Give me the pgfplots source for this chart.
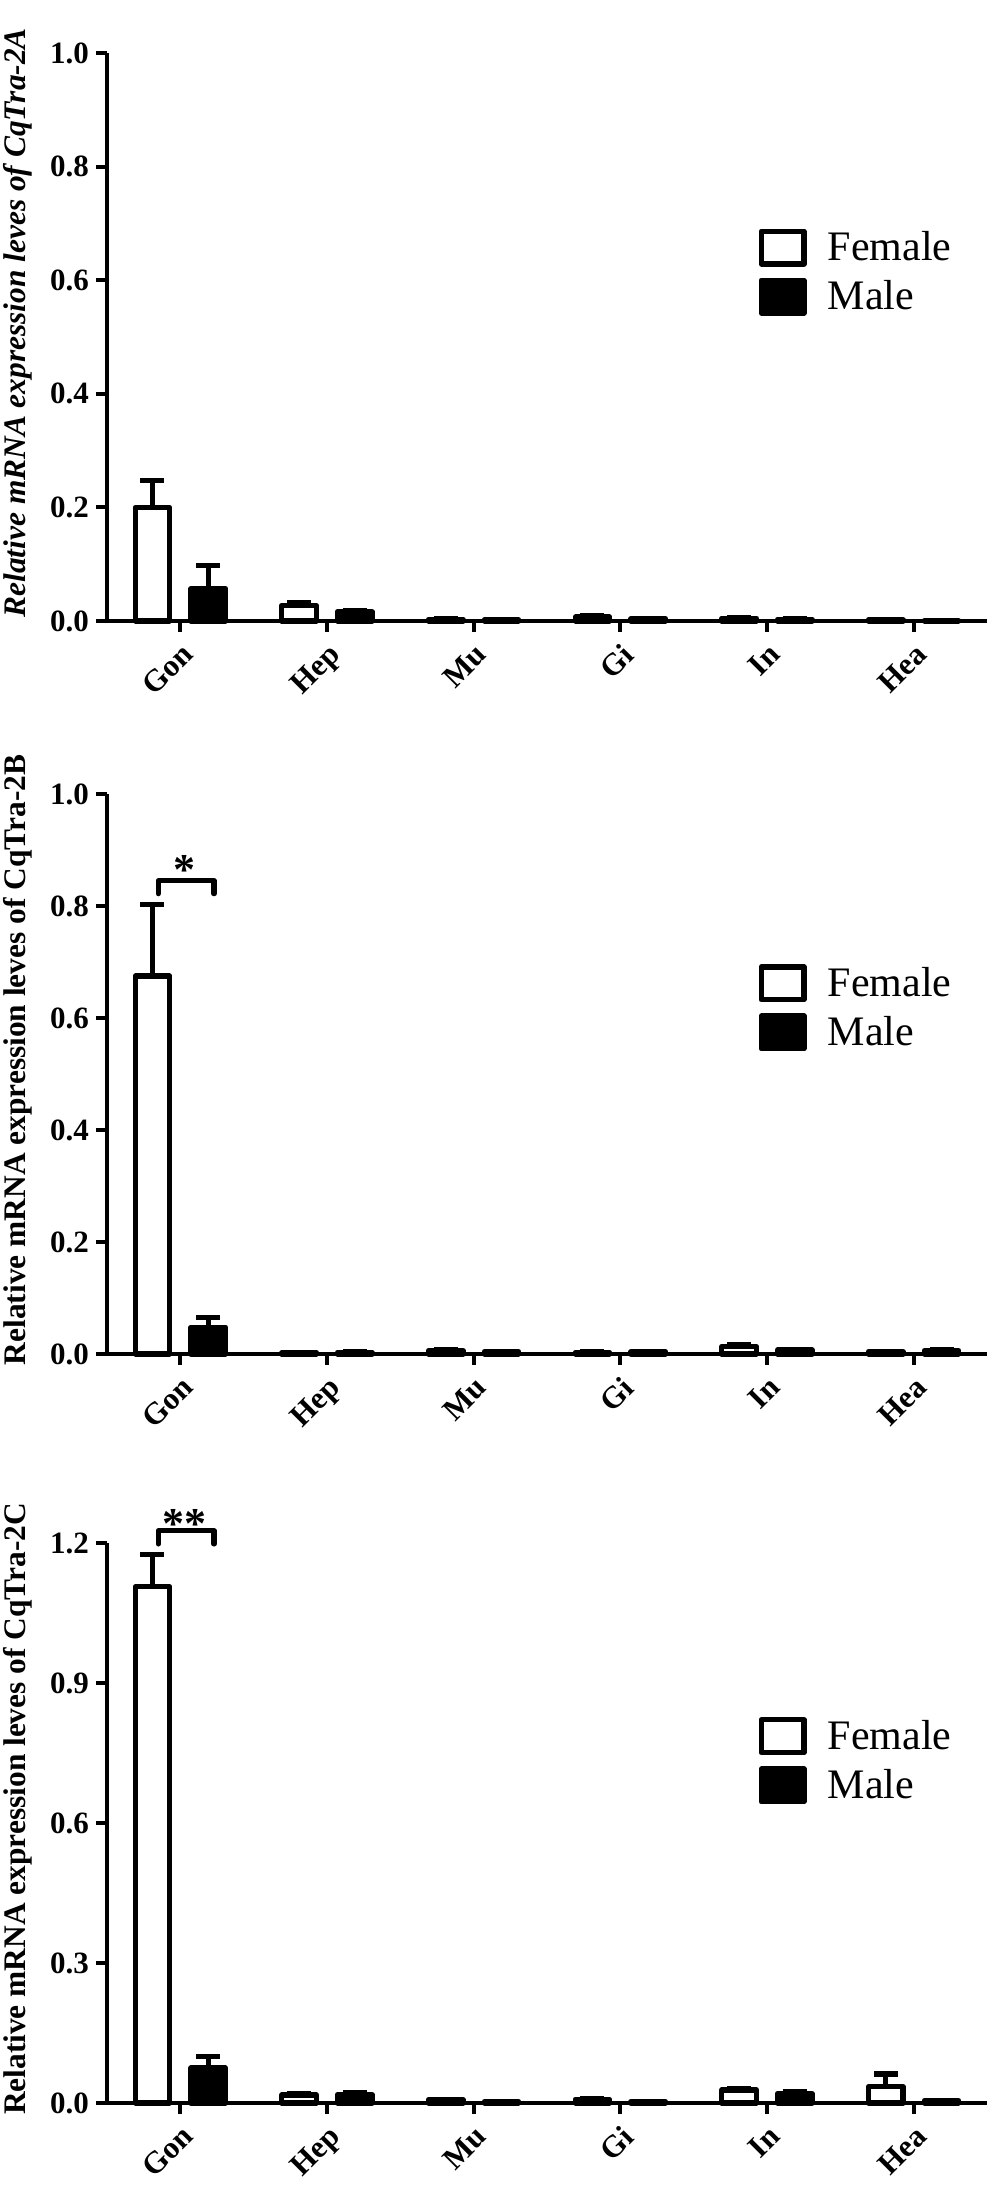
\documentclass[border=0pt]{standalone}
\usepackage{pgfplots}
\pgfplotsset{compat=1.18}
\usepackage{fontspec}
\setmainfont{Liberation Serif}
\pgfplotsset{
  panel/.style={
    scale only axis, width=440pt,
    ybar, clip=false,
    axis lines=left,
    axis line style={-, line width=2pt, black},
    tick style={line width=2pt, black},
    tick align=outside, major tick length=5.5pt,
    minor tick num=0,
    xmin=-0.5, xmax=5.5, ymin=0,
    xtick={0,1,2,3,4,5},
    xticklabels={Gon,Hep,Mu,Gi,In,Hea},
    xticklabel style={rotate=45, anchor=north east, font=\fontsize{15.5}{18}\selectfont\bfseries},
    yticklabel style={font=\fontsize{15.5}{18}\selectfont\bfseries},
    /pgf/number format/assume math mode=true,
    /pgf/number format/.cd, fixed, fixed zerofill, precision=1, /pgfplots/.cd,
    every axis y label/.style={at={(axis description cs:-0.101,0.525)}, rotate=90, anchor=center},
    bar width=0.235,
    legend image code/.code={\draw[#1, line width=2.6pt, line join=round] (0pt,-8.2pt) rectangle (21.4pt,8.2pt); \path (29pt,0pt);},
    legend style={draw=none, fill=none, font=\fontsize{21}{23}\selectfont, row sep=2.5pt, inner sep=0pt, nodes={inner sep=3pt}},
    legend cell align=left,
    error bars/y dir=plus, error bars/y explicit,
    error bars/error bar style={line width=2.6pt, black},
    error bars/error mark options={rotate=90, mark size=6pt, line width=2.6pt, black},
  },
  fem/.style={fill=white, draw=black, line width=2.6pt, line join=round, bar shift=-0.19},
  mal/.style={fill=black, draw=black, line width=2.6pt, line join=round, bar shift=0.19},
}
\begin{document}
\begin{tikzpicture}
\useasboundingbox (0,0) rectangle (502pt,1098pt);
% ---------- Panel A
\begin{axis}[panel, at={(53.5pt,787.5pt)}, anchor=south west, height=284pt,
  ymax=1.0, ytick={0,0.2,0.4,0.6,0.8,1.0},
  ylabel={\fontsize{15.7}{18}\selectfont\bfseries\itshape Relative mRNA expression leves of CqTra-2A},
  legend style={at={(axis description cs:0.740,0.697)}, anchor=north west}]
\addplot[fem] coordinates {(0,0.200) +- (0,0.048) (1,0.027) +- (0,0.006) (2,0.003) +- (0,0.001) (3,0.007) +- (0,0.002) (4,0.005) +- (0,0.001) (5,0.002) +- (0,0.001)};
\addplot[mal] coordinates {(0,0.057) +- (0,0.040) (1,0.016) +- (0,0.003) (2,0.002) +- (0,0.001) (3,0.004) +- (0,0.001) (4,0.003) +- (0,0.001) (5,0.001) +- (0,0.000)};
\legend{Female,Male}
\end{axis}
% ---------- Panel B
\begin{axis}[panel, at={(53.5pt,421pt)}, anchor=south west, height=280pt,
  ymax=1.0, ytick={0,0.2,0.4,0.6,0.8,1.0},
  ylabel={\fontsize{15.7}{18}\selectfont\bfseries Relative mRNA expression leves of CqTra-2B},
  legend style={at={(axis description cs:0.740,0.702)}, anchor=north west}]
\addplot[fem] coordinates {(0,0.675) +- (0,0.127) (1,0.002) +- (0,0.001) (2,0.006) +- (0,0.001) (3,0.003) +- (0,0.001) (4,0.013) +- (0,0.004) (5,0.004) +- (0,0.001)};
\addplot[mal] coordinates {(0,0.048) +- (0,0.017) (1,0.003) +- (0,0.001) (2,0.004) +- (0,0.001) (3,0.004) +- (0,0.001) (4,0.007) +- (0,0.001) (5,0.006) +- (0,0.001)};
\legend{Female,Male}
\draw[line width=2.6pt, line cap=round, line join=round] (axis cs:-0.15,0.822) |- (axis cs:0.23,0.845) -- (axis cs:0.23,0.822);
\node[anchor=base, inner sep=0pt, font=\fontsize{22}{24}\selectfont\bfseries, yshift=-2pt] at (axis cs:0.03,0.845) {*};
\end{axis}
% ---------- Panel C
\begin{axis}[panel, at={(53.5pt,46.5pt)}, anchor=south west, height=280pt,
  ymax=1.2, ytick={0,0.3,0.6,0.9,1.2},
  ylabel={\fontsize{15.7}{18}\selectfont\bfseries Relative mRNA expression leves of CqTra-2C},
  legend style={at={(axis description cs:0.740,0.695)}, anchor=north west}]
\addplot[fem] coordinates {(0,1.106) +- (0,0.070) (1,0.017) +- (0,0.003) (2,0.007) +- (0,0.001) (3,0.008) +- (0,0.001) (4,0.028) +- (0,0.002) (5,0.035) +- (0,0.027)};
\addplot[mal] coordinates {(0,0.075) +- (0,0.025) (1,0.018) +- (0,0.004) (2,0.003) +- (0,0.001) (3,0.003) +- (0,0.001) (4,0.020) +- (0,0.004) (5,0.005) +- (0,0.001)};
\legend{Female,Male}
\draw[line width=2.6pt, line cap=round, line join=round] (axis cs:-0.15,1.198) |- (axis cs:0.23,1.226) -- (axis cs:0.23,1.198);
\node[anchor=base, inner sep=0pt, font=\fontsize{22}{24}\selectfont\bfseries, yshift=-4pt] at (axis cs:0.03,1.226) {**};
\end{axis}
\end{tikzpicture}
\end{document}
